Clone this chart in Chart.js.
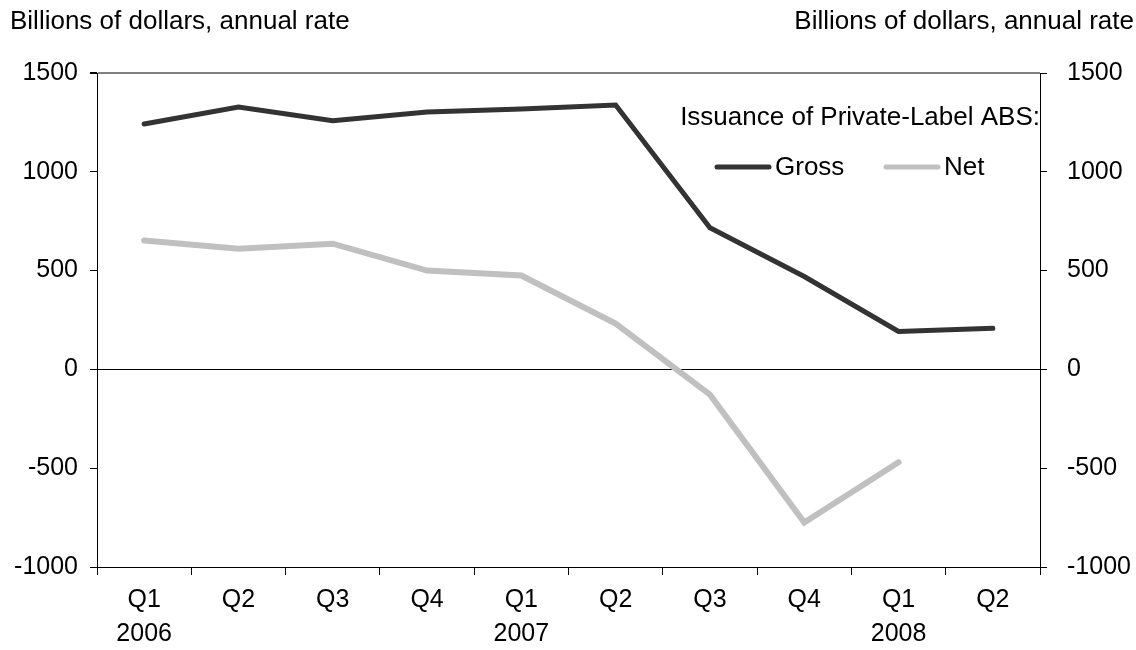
<!DOCTYPE html>
<html>
<head>
<meta charset="utf-8">
<script src="https://cdn.jsdelivr.net/npm/chart.js@4"></script>
<style>
  html, body { margin: 0; padding: 0; background: #fff; }
  #wrap { width: 1136px; height: 650px; position: relative; }
</style>
</head>
<body>
<div id="wrap"><canvas id="chart" width="1136" height="650"></canvas></div>
<script>
// Datos
const quarters = [['Q1', '2006'], ['Q2', ''], ['Q3', ''], ['Q4', ''], ['Q1', '2007'], ['Q2', ''], ['Q3', ''], ['Q4', ''], ['Q1', '2008'], ['Q2', '']];
const grossValues = [1242, 1328, 1258, 1303, 1318, 1338, 717, 470, 192, 208];
const netValues = [652, 611, 636, 500, 475, 232, -128, -775, -470, null];
const yTicks = [-1000, -500, 0, 500, 1000, 1500];

const FONT = 'Liberation Sans, Arial, sans-serif';
const unitLabel = 'Billions of dollars, annual rate';
const legendTitle = 'Issuance of Private-Label ABS:';

// Textos y leyenda dibujados sobre el canvas
const overlayPlugin = {
    id: 'overlay',
    afterDraw(chart) {
        const ctx = chart.ctx;
        ctx.save();
        ctx.fillStyle = '#000';
        ctx.font = '26px ' + FONT;
        ctx.textBaseline = 'middle';
        ctx.textAlign = 'left';
        ctx.fillText(unitLabel, 10, 22);
        ctx.textAlign = 'right';
        ctx.fillText(unitLabel, 1134, 22);

        ctx.fillText(legendTitle, 1040, 118);

        const items = [
            { ds: chart.data.datasets[0], x: 715 },
            { ds: chart.data.datasets[1], x: 884 }
        ];
        items.forEach(item => {
            ctx.strokeStyle = item.ds.borderColor;
            ctx.lineWidth = 5;
            ctx.lineCap = 'round';
            ctx.beginPath();
            ctx.moveTo(item.x + 2, 167);
            ctx.lineTo(item.x + 54, 167);
            ctx.stroke();
            ctx.textAlign = 'left';
            ctx.fillStyle = '#000';
            ctx.fillText(item.ds.label, item.x + 60, 168);
        });
        ctx.restore();
    }
};

const ctx = document.getElementById('chart').getContext('2d');
new Chart(ctx, {
    type: 'line',
    data: {
        labels: quarters,
        datasets: [
            {
                label: 'Gross',
                data: grossValues,
                borderColor: '#333333',
                borderWidth: 5,
                pointRadius: 0,
                tension: 0,
                borderCapStyle: 'round',
                borderJoinStyle: 'miter',
                yAxisID: 'y'
            },
            {
                label: 'Net',
                data: netValues,
                borderColor: '#c0c0c0',
                borderWidth: 6,
                pointRadius: 0,
                tension: 0,
                borderCapStyle: 'round',
                borderJoinStyle: 'miter',
                yAxisID: 'y'
            }
        ]
    },
    options: {
        responsive: false,
        animation: false,
        layout: { padding: { top: 73, left: 0, right: 0, bottom: 0 } },
        plugins: {
            legend: { display: false },
            tooltip: { enabled: false }
        },
        scales: {
            x: {
                offset: true,
                grid: {
                    offset: true,
                    drawOnChartArea: false,
                    tickLength: 8,
                    color: '#000'
                },
                border: { color: '#000', width: 1 },
                ticks: {
                    color: '#000',
                    font: { family: FONT, size: 25, lineHeight: 1.36 },
                    padding: 8,
                    maxRotation: 0,
                    autoSkip: false
                },
                afterFit(scale) { scale.height = 83; }
            },
            y: {
                position: 'left',
                min: -1000,
                max: 1500,
                afterBuildTicks(scale) { scale.ticks = yTicks.map(v => ({ value: v })); },
                grid: {
                    drawOnChartArea: true,
                    tickLength: 7,
                    color: c => c.tick && c.tick.value === 0 ? '#000' : (c.tick && c.tick.value === 1500 ? '#808080' : 'rgba(0,0,0,0)'),
                    tickColor: '#000',
                    lineWidth: c => c.tick && c.tick.value === 1500 ? 2 : 1
                },
                border: { color: '#000', width: 1 },
                ticks: {
                    color: '#000',
                    font: { family: FONT, size: 25 },
                    padding: 12,
                    callback: v => String(v)
                },
                afterFit(scale) { scale.width = 97; }
            },
            y2: {
                position: 'right',
                min: -1000,
                max: 1500,
                afterBuildTicks(scale) { scale.ticks = yTicks.map(v => ({ value: v })); },
                grid: {
                    drawOnChartArea: false,
                    tickLength: 7,
                    color: '#000'
                },
                border: { color: '#000', width: 1 },
                ticks: {
                    color: '#000',
                    font: { family: FONT, size: 25 },
                    padding: 20,
                    callback: v => String(v)
                },
                afterFit(scale) { scale.width = 96; }
            }
        }
    },
    plugins: [overlayPlugin]
});
</script>
</body>
</html>
